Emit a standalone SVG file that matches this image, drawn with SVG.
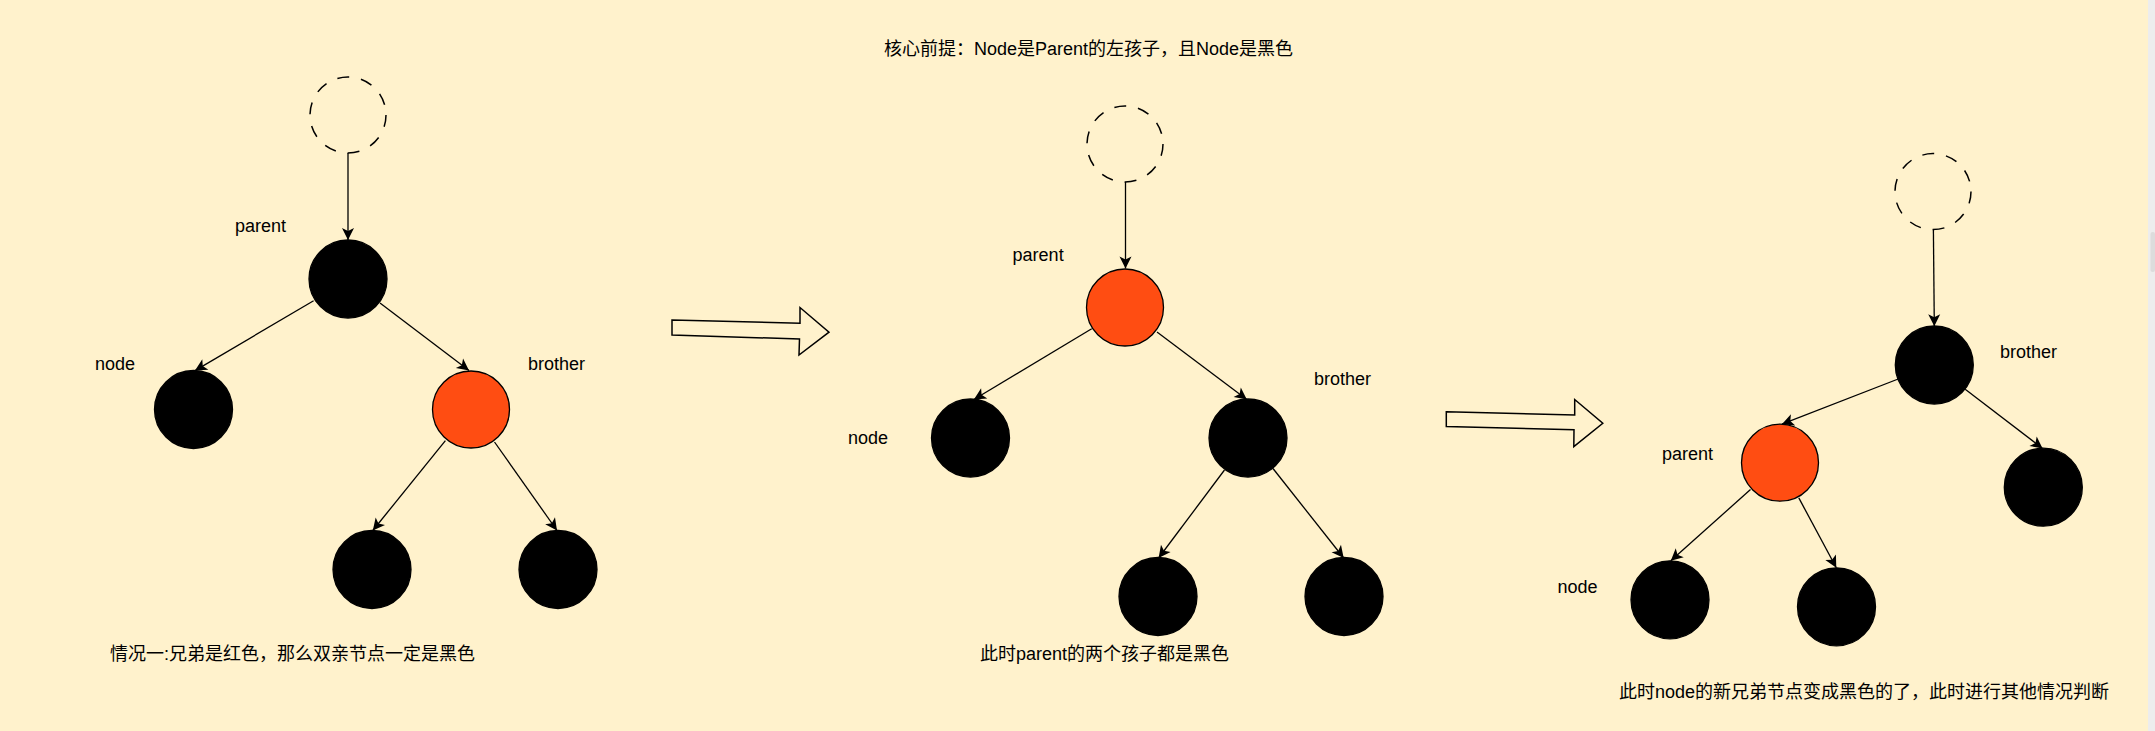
<svg xmlns="http://www.w3.org/2000/svg" width="2155" height="731" viewBox="0 0 2155 731">
<defs>
<style>
.bg{fill:#FFF2CC}
.dash{fill:none;stroke:#000;stroke-width:1.5;stroke-dasharray:12 12}
.blk{fill:#000;stroke:#000;stroke-width:1.3}
.red{fill:#FF4D12;stroke:#000;stroke-width:1.3}
.edge{fill:none;stroke:#000;stroke-width:1.3;marker-end:url(#arr)}
.big{fill:none;stroke:#000;stroke-width:1.5;stroke-linejoin:miter}
text{font-family:"Liberation Sans","Noto Sans CJK SC",sans-serif;font-size:18px;fill:#000}
</style>
<marker id="arr" viewBox="-13 -7 14 14" refX="0" refY="0" markerWidth="14" markerHeight="14" orient="auto" markerUnits="userSpaceOnUse">
<path d="M0,0 L-12,-6 L-9,0 L-12,6 Z" fill="#000"/>
</marker>
</defs>
<rect class="bg" x="0" y="0" width="2155" height="731"/>
<rect x="2148" y="0" width="7" height="731" fill="#EDEDED"/>
<rect x="2150.5" y="232" width="4.5" height="40" rx="2" fill="#DCDCDC"/>

<text id="title" x="884" y="55">核心前提：Node是Parent的左孩子，且Node是黑色</text>

<g id="connectors">
<line class="edge" x1="348" y1="153" x2="348" y2="240"/>
<line class="edge" x1="313.6" y1="300.7" x2="195" y2="370.6"/>
<line class="edge" x1="380" y1="303" x2="469" y2="370.6"/>
<line class="edge" x1="445.4" y1="440.6" x2="372.8" y2="530.5"/>
<line class="edge" x1="494.5" y1="442" x2="557" y2="530.5"/>

<line class="edge" x1="1125.5" y1="182" x2="1125.5" y2="268.5"/>
<line class="edge" x1="1091.7" y1="328.7" x2="973.9" y2="399.5"/>
<line class="edge" x1="1157" y1="332" x2="1246.8" y2="399.5"/>
<line class="edge" x1="1224.5" y1="470" x2="1158.6" y2="558"/>
<line class="edge" x1="1273" y1="468.5" x2="1343.7" y2="558"/>

<line class="edge" x1="1933.4" y1="229.5" x2="1934.3" y2="326.3"/>
<line class="edge" x1="1898.2" y1="379" x2="1781.9" y2="424.2"/>
<line class="edge" x1="1965.2" y1="389.3" x2="2042.6" y2="448.5"/>
<line class="edge" x1="1750.5" y1="489.5" x2="1670.8" y2="560.8"/>
<line class="edge" x1="1798.8" y1="497.9" x2="1836.3" y2="567.8"/>
</g>

<g id="arrow1"><polygon class="big" fill="none" points="672,320 800,323.3 800,307.5 829,332.2 799,355 799.5,339 672,335"/></g>
<g id="arrow2"><polygon class="big" fill="none" points="1446.3,411.7 1574.7,415 1574.7,399.5 1602.8,423.3 1573.8,446.6 1574,429.8 1446.3,426.6"/></g>

<g id="p1-root"><circle class="dash" cx="348" cy="115" r="38"/></g>
<g id="p1-parent"><circle class="blk" cx="348" cy="279" r="39"/><text x="235" y="232">parent</text></g>
<g id="p1-node"><circle class="blk" cx="193.5" cy="409.5" r="39"/><text x="95" y="370">node</text></g>
<g id="p1-brother"><circle class="red" cx="471" cy="409.5" r="38.5"/><text x="528" y="370">brother</text></g>
<g id="p1-bl"><circle class="blk" cx="372" cy="569.5" r="39"/></g>
<g id="p1-br"><circle class="blk" cx="558" cy="569.5" r="39"/></g>
<text id="p1-caption" x="110" y="660">情况一:兄弟是红色，那么双亲节点一定是黑色</text>

<g id="p2-root"><circle class="dash" cx="1125" cy="144" r="38"/></g>
<g id="p2-parent"><circle class="red" cx="1125" cy="307.5" r="38.5"/><text x="1012.6" y="261">parent</text></g>
<g id="p2-node"><circle class="blk" cx="970.5" cy="438" r="39"/><text x="848" y="444">node</text></g>
<g id="p2-brother"><circle class="blk" cx="1248" cy="438" r="39"/><text x="1314" y="385">brother</text></g>
<g id="p2-bl"><circle class="blk" cx="1158" cy="596.5" r="39"/></g>
<g id="p2-br"><circle class="blk" cx="1344" cy="596.5" r="39"/></g>
<text id="p2-caption" x="980" y="660">此时parent的两个孩子都是黑色</text>

<g id="p3-root"><circle class="dash" cx="1933" cy="191.6" r="38"/></g>
<g id="p3-brother"><circle class="blk" cx="1934.3" cy="365" r="39"/><text x="2000" y="358">brother</text></g>
<g id="p3-parent"><circle class="red" cx="1780" cy="462.7" r="38.5"/><text x="1662" y="460">parent</text></g>
<g id="p3-rc"><circle class="blk" cx="2043.3" cy="487.2" r="39"/></g>
<g id="p3-node"><circle class="blk" cx="1670" cy="599.8" r="39"/><text x="1557.4" y="593">node</text></g>
<g id="p3-prc"><circle class="blk" cx="1836.5" cy="606.8" r="39"/></g>
<text id="p3-caption" x="1619" y="698">此时node的新兄弟节点变成黑色的了，此时进行其他情况判断</text>
</svg>
